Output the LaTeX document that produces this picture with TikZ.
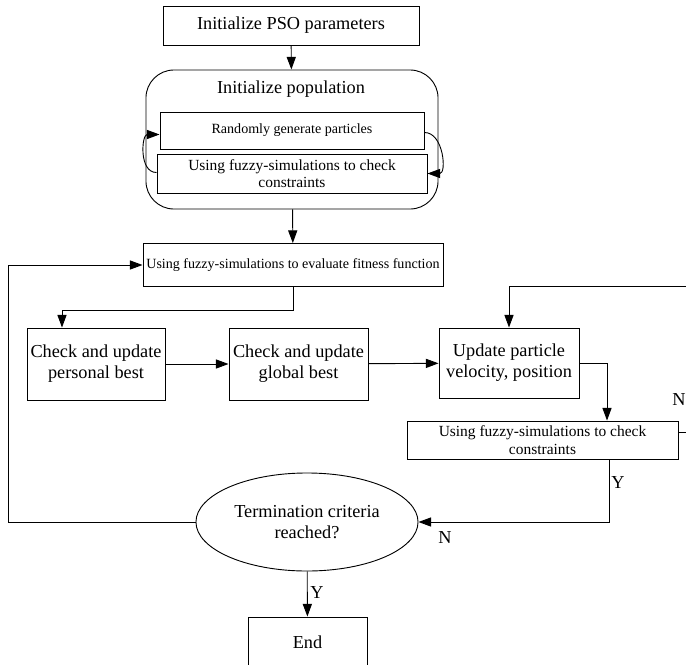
\documentclass[tikz,border=0pt]{standalone}
\usepackage{fontspec}
\setmainfont{Liberation Serif}
\usetikzlibrary{arrows.meta,positioning,calc,shapes.geometric}

\begin{document}
\begin{tikzpicture}[x=0.025cm,y=-0.025cm,line width=0.65pt,
  box/.style={draw,inner sep=1pt,align=center},
  txtl/.style={font=\fontsize{13}{15}\selectfont},
  txtm/.style={font=\fontsize{11}{12.5}\selectfont},
  txts/.style={font=\fontsize{10}{12}\selectfont},
  arr/.style={-{Triangle[length=9pt,width=6.5pt]}}]
  \clip (0,0) rectangle (686,665);

  % initialisation
  \node[box,txtl,minimum width=6.4cm,minimum height=0.975cm] (init) at (291,25.5) {Initialize PSO parameters};
  \node[box,rounded corners=0.7cm,minimum width=7.3cm,minimum height=3.475cm] (pop) at (292,139.5) {};
  \node[txtl] (poptitle) at (291,89) {Initialize population};
  \node[box,txts,minimum width=6.6cm,minimum height=0.925cm] (rand) at (292,130.5) {Randomly generate particles};
  \node[box,txtm,minimum width=6.75cm,minimum height=0.975cm] (fuzz1) at (292,173.5) {Using fuzzy-simulations to check\\constraints};

  % main loop
  \node[box,txts,minimum width=7.5cm,minimum height=1.075cm] (eval) at (293,265) {Using fuzzy-simulations to evaluate fitness function};
  \node[box,txtl,minimum width=3.45cm,minimum height=1.8cm] (pbest) at (96,364) {Check and update\\personal best};
  \node[box,txtl,minimum width=3.475cm,minimum height=1.8cm] (gbest) at (298.5,364) {Check and update\\global best};
  \node[box,txtl,minimum width=3.5cm,minimum height=1.75cm] (upd) at (509,363) {Update particle\\velocity, position};
  \node[box,txtm,minimum width=6.775cm,minimum height=0.95cm] (fuzz2) at (542.5,440) {Using fuzzy-simulations to check\\constraints};
  \node[draw,ellipse,inner sep=0pt,txtl,align=center,minimum width=5.55cm,minimum height=2.45cm] (term) at (307,522) {Termination criteria\\reached?};
  \node[box,txtl,minimum width=2.975cm,minimum height=1.25cm] (endbox) at (307.5,642) {End};

  % corners of the return lines
  \coordinate (ncorner) at (705,286);
  \coordinate (lcorner) at (8,522);

  % connectors
  \draw[arr] (init) -- (pop);
  \draw[arr] ([yshift=0.025cm]fuzz1.west) to[out=180,in=180,looseness=1.2] ([yshift=-0.1cm]rand.west);
  \draw[arr] ([yshift=-0.05cm]rand.east) to[out=0,in=0,looseness=1.2] (fuzz1.east);
  \draw[arr] (pop) -- (eval);
  \draw[arr] (eval.south) -- ++(0,23) -| ([xshift=-0.85cm]pbest.north);
  \draw[arr] (pbest) -- (gbest);
  \draw[arr] (gbest) -- (upd);
  \draw[arr] (upd.east) -| ([xshift=1.6125cm]fuzz2.north);
  \draw[arr] ([yshift=0.2cm]fuzz2.east) -| (ncorner) -| (upd.north);
  \draw[arr] ([xshift=1.6625cm]fuzz2.south) |- (term.east);
  \draw[arr] (term.west) -- (lcorner) |- (eval.west);
  \draw[arr] (term) -- (endbox);

  % branch labels
  \node[txtl] (nup) at (679,400) {N};
  \node[txtl] (yright) at (618,483) {Y};
  \node[txtl] (nleft) at (445,538) {N};
  \node[txtl] (ydown) at (317,593) {Y};
\end{tikzpicture}
\end{document}
